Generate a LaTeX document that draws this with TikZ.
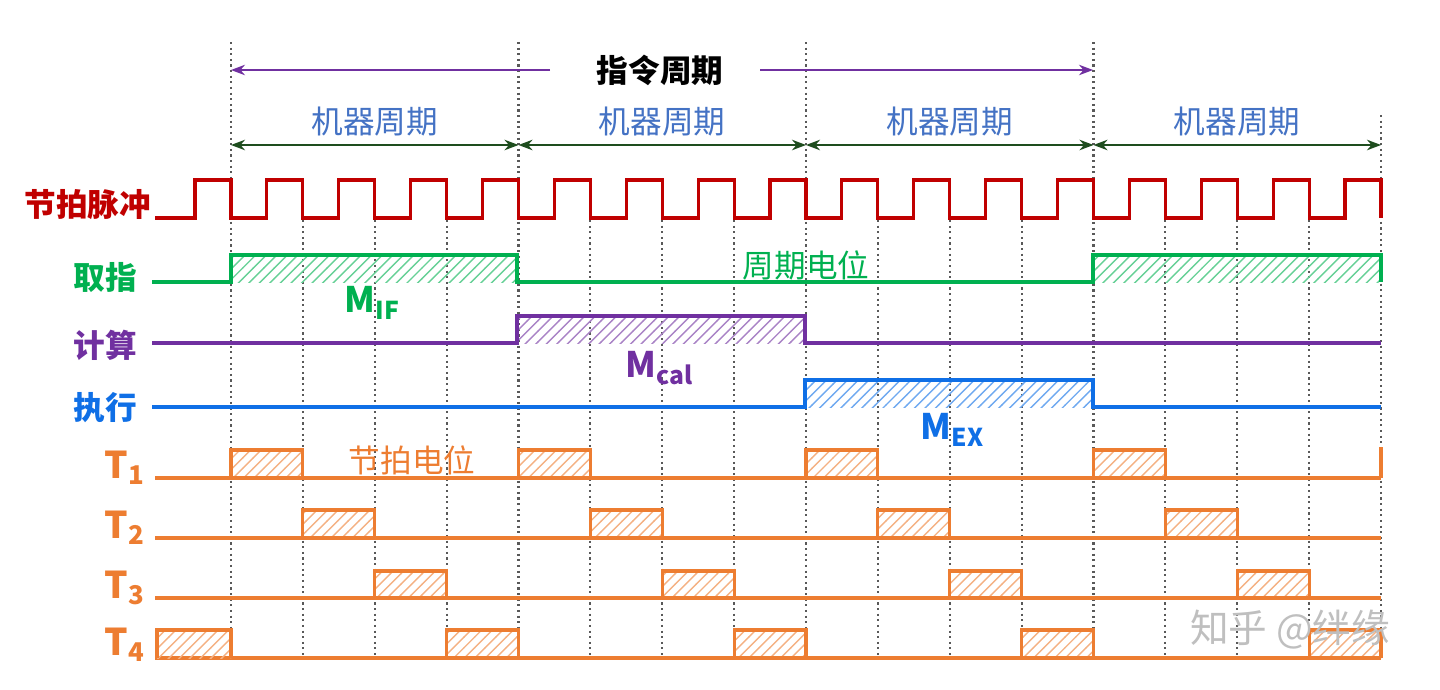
\documentclass[tikz,border=0pt]{standalone}
\usepackage{fontspec}
\setmainfont{Noto Sans CJK SC}
\usetikzlibrary{patterns, arrows.meta}
\definecolor{clkred}{HTML}{C00000}
\definecolor{ifgreen}{HTML}{00B050}
\definecolor{calpurple}{HTML}{7030A0}
\definecolor{exblue}{HTML}{0F6FE6}
\definecolor{torange}{HTML}{ED7D31}
\definecolor{mcblue}{HTML}{4472C4}
\definecolor{arrgreen}{HTML}{1E4D1E}
\tikzset{
    guide/.style={densely dotted, gray!70!black, line width=0.6pt},
    wave/.style={line width=0.9pt, line join=miter},
    hatch/.style={pattern=north east lines, pattern color=#1!60},
    lbl/.style={font=\bfseries\fontsize{9}{9}\selectfont, anchor=center},
}
\newcommand{\tx}[1]{2.31+0.71875*(#1)}
\begin{document}
\begin{tikzpicture}[x=1cm, y=-1cm]
    \useasboundingbox (0,0) rectangle (14.4,6.9);
    % guides
    \foreach \k in {0,4,8,12} \draw[guide] ({\tx{\k}},0.42) -- ({\tx{\k}},6.6);
    \draw[guide] (13.81,1.15) -- (13.81,6.6);
    \foreach \k in {1,2,3,5,6,7,9,10,11,13,14,15} \draw[guide] ({\tx{\k}},2.2) -- ({\tx{\k}},6.6);
    % instruction cycle
    \node[font=\bfseries\fontsize{9}{9}\selectfont] (ic) at (6.6,0.7) {指令周期};
    \coordinate (icl) at (2.31,0.7);
    \coordinate (icr) at (10.93,0.7);
    \draw[calpurple, line width=0.4pt, -{Stealth[length=4pt]}] (5.5,0.7) -- (icl);
    \draw[calpurple, line width=0.4pt, -{Stealth[length=4pt]}] (7.6,0.7) -- (icr);
    % machine cycles
    \foreach \k/\n in {0/a,4/b,8/c,12/d} {
        \coordinate (mc\n) at ({\tx{\k}},1.45);
        \coordinate (me\n) at ({\tx{\k+4}},1.45);
        \draw[arrgreen, line width=0.5pt, {Stealth[length=4pt]}-{Stealth[length=4pt]}] (mc\n) -- (me\n);
        \node[mcblue, font=\fontsize{9}{9}\selectfont] (mt\n) at ({\tx{\k+2}},1.22) {机器周期};
    }
    % row labels
    \node[lbl, clkred] (clk) at (0.88,2.05) {节拍脉冲};
    \node[lbl, ifgreen] (fif) at (1.05,2.77) {取指};
    \node[lbl, calpurple] (fcal) at (1.05,3.45) {计算};
    \node[lbl, exblue] (fex) at (1.05,4.08) {执行};
    \foreach \i/\y in {1/4.68,2/5.28,3/5.88,4/6.45}
        \node[lbl, torange, font=\bfseries\fontsize{10.5}{10.5}\selectfont] (t\i) at (1.25,\y) {T\textsubscript{\i}};
    % clock
    \draw[wave, clkred] (1.55,2.18) -- (1.95,2.18)
        \foreach \k in {0,...,15} { -- ({1.95+0.71875*\k},1.8) -- ({\tx{\k}},1.8) -- ({\tx{\k}},2.18) -- ({1.95+0.71875*(\k+1)},2.18) }
        -- (13.45,1.8) -- (13.81,1.8) -- (13.81,2.18);
    % cycle levels
    \fill[hatch=ifgreen] (2.31,2.55) rectangle (5.17,2.82);
    \fill[hatch=ifgreen] (10.93,2.55) rectangle (13.81,2.82);
    \draw[wave, ifgreen] (1.52,2.82) -- (2.31,2.82) -- (2.31,2.55) -- (5.17,2.55) -- (5.17,2.82)
        -- (10.93,2.82) -- (10.93,2.55) -- (13.81,2.55) -- (13.81,2.82);
    \fill[hatch=calpurple] (5.17,3.16) rectangle (8.05,3.43);
    \draw[wave, calpurple] (1.52,3.43) -- (5.17,3.43) -- (5.17,3.16) -- (8.05,3.16) -- (8.05,3.43) -- (13.81,3.43);
    \fill[hatch=exblue] (8.05,3.8) rectangle (10.93,4.07);
    \draw[wave, exblue] (1.52,4.07) -- (8.05,4.07) -- (8.05,3.8) -- (10.93,3.8) -- (10.93,4.07) -- (13.81,4.07);
    \node[ifgreen, font=\bfseries\fontsize{10}{10}\selectfont] (mif) at (3.73,3.03) {M\textsubscript{IF}};
    \node[calpurple, font=\bfseries\fontsize{10}{10}\selectfont] (mcal) at (6.6,3.68) {M\textsubscript{cal}};
    \node[exblue, font=\bfseries\fontsize{10}{10}\selectfont] (mex) at (9.53,4.3) {M\textsubscript{EX}};
    \node[ifgreen, font=\fontsize{9}{9}\selectfont] (cyc) at (8.06,2.65) {周期电位};
    % timing levels
    \foreach \s/\lo/\hi in {0/4.78/4.5, 1/5.38/5.1, 2/5.98/5.71, 3/6.58/6.3} {
        \foreach \c in {0,4,8,12} {
            \fill[hatch=torange] ({\tx{\c+\s}},\hi) rectangle ({\tx{\c+\s+1}},\lo);
            \draw[wave, torange] ({\tx{\c+\s}},\lo) -- ({\tx{\c+\s}},\hi) -- ({\tx{\c+\s+1}},\hi) -- ({\tx{\c+\s+1}},\lo);
        }
        \draw[wave, torange] (1.55,\lo) -- (13.81,\lo);
    }
    \fill[hatch=torange] (1.57,6.3) rectangle (2.31,6.58);
    \draw[wave, torange] (1.57,6.58) -- (1.57,6.3) -- (2.31,6.3) -- (2.31,6.58);
    \draw[wave, torange] (13.81,4.78) -- (13.81,4.47);
    \node[torange, font=\fontsize{9}{9}\selectfont] (tp) at (4.12,4.6) {节拍电位};
    \node[gray!50, font=\fontsize{11}{11}\selectfont] (wm) at (12.9,6.3) {知乎 @绊缘};
\end{tikzpicture}
\end{document}
